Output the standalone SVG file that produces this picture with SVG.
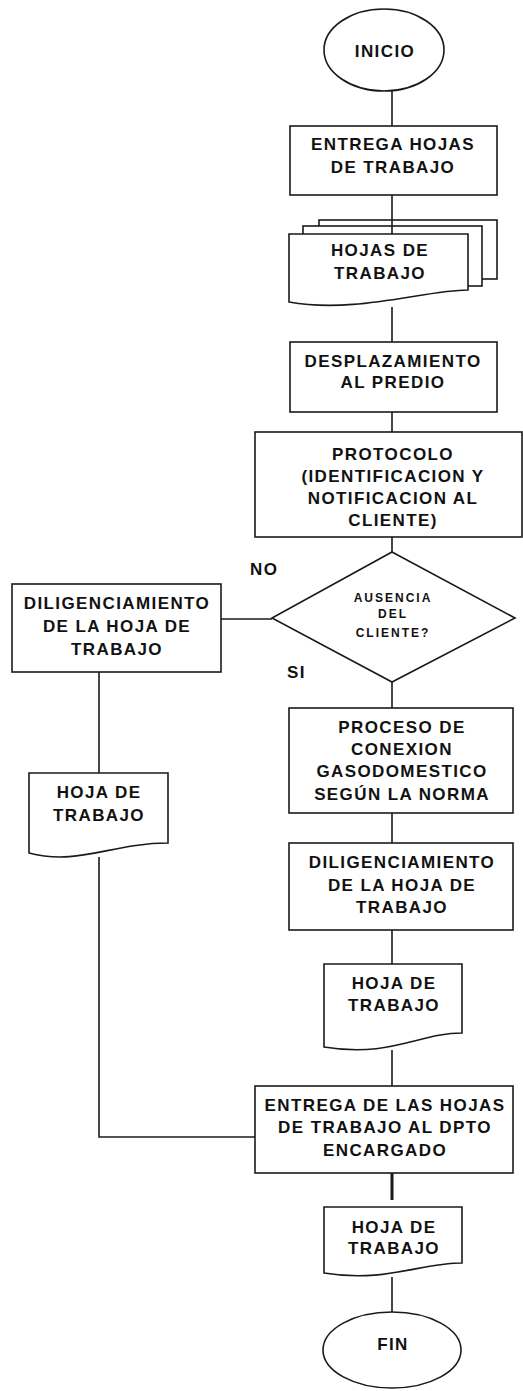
<svg xmlns="http://www.w3.org/2000/svg" width="523" height="1391" viewBox="0 0 523 1391">
<style>
.s{fill:#fff;stroke:#1a1a1a;stroke-width:1.6}
.c{fill:none;stroke:#1a1a1a;stroke-width:1.6}
text{font-family:"Liberation Sans",Arial,sans-serif;font-weight:bold;font-size:17px;letter-spacing:1.4px;fill:#111;text-anchor:middle}
.sm{font-size:12px;letter-spacing:2px}
.lb{text-anchor:start}
</style>
<rect width="523" height="1391" fill="#fff"/>
<g id="inicio"><ellipse class="s" cx="384" cy="50" rx="60" ry="41"/><text x="385" y="57">INICIO</text></g>
<g id="entrega"><rect class="s" x="290" y="126" width="207" height="69"/><text x="393" y="150">ENTREGA HOJAS</text><text x="393" y="173">DE TRABAJO</text></g>
<g id="hojas"><rect class="s" x="319" y="220" width="178" height="59"/><rect class="s" x="303" y="226" width="179" height="60"/><path class="s" d="M289,234 H468 V290 C425,290 355,314 289,302 Z"/><text x="380" y="256">HOJAS DE</text><text x="380" y="279">TRABAJO</text></g>
<g id="desplazamiento"><rect class="s" x="290" y="342" width="207" height="70"/><text x="393" y="367">DESPLAZAMIENTO</text><text x="393" y="388">AL PREDIO</text></g>
<g id="protocolo"><rect class="s" x="255" y="432" width="267" height="105"/><text x="393" y="460">PROTOCOLO</text><text x="393" y="482">(IDENTIFICACION Y</text><text x="393" y="504">NOTIFICACION AL</text><text x="393" y="526">CLIENTE)</text></g>
<g id="decision"><polygon class="s" points="392,552 515,618 392,682 272,618"/><text class="sm" x="393" y="602">AUSENCIA</text><text class="sm" x="393" y="618">DEL</text><text class="sm" x="393" y="637">CLIENTE?</text></g>
<g id="dilig-izq"><rect class="s" x="12" y="584" width="209" height="88"/><text x="117" y="609">DILIGENCIAMIENTO</text><text x="117" y="632">DE LA HOJA DE</text><text x="117" y="655">TRABAJO</text></g>
<g id="hoja-izq"><path class="s" d="M29,773 H168 V843 C112,843 78,866 29,853 Z"/><text x="99" y="798">HOJA DE</text><text x="99" y="821">TRABAJO</text></g>
<g id="proceso"><rect class="s" x="289" y="708" width="224" height="105"/><text x="402" y="733">PROCESO DE</text><text x="402" y="755">CONEXION</text><text x="402" y="777">GASODOMESTICO</text><text x="402" y="800">SEGÚN LA NORMA</text></g>
<g id="dilig-der"><rect class="s" x="289" y="843" width="224" height="87"/><text x="402" y="868">DILIGENCIAMIENTO</text><text x="402" y="891">DE LA HOJA DE</text><text x="402" y="913">TRABAJO</text></g>
<g id="hoja-der"><path class="s" d="M324,964 H462 V1033 C420,1033 390,1058 324,1047 Z"/><text x="394" y="989">HOJA DE</text><text x="394" y="1011">TRABAJO</text></g>
<g id="entrega-dpto"><rect class="s" x="255" y="1086" width="258" height="87"/><text x="385" y="1111">ENTREGA DE LAS HOJAS</text><text x="385" y="1133">DE TRABAJO AL DPTO</text><text x="385" y="1156">ENCARGADO</text></g>
<g id="hoja-fin"><path class="s" d="M324,1207 H462 V1263 C420,1263 385,1283 324,1273 Z"/><text x="394" y="1233">HOJA DE</text><text x="394" y="1254">TRABAJO</text></g>
<g id="fin"><ellipse class="s" cx="392" cy="1350" rx="69" ry="38"/><text x="393" y="1350">FIN</text></g>
<g id="labels"><text class="lb" x="250" y="575">NO</text><text class="lb" x="287" y="678">SI</text></g>
<g id="connectors">
<path class="c" d="M392,91 V126"/>
<path class="c" d="M392,195 V234"/>
<path class="c" d="M392,307 V342"/>
<path class="c" d="M392,412 V432"/>
<path class="c" d="M392,537 V552"/>
<path class="c" d="M221,619 H272"/>
<path class="c" d="M392,682 V708"/>
<path class="c" d="M392,813 V843"/>
<path class="c" d="M392,930 V964"/>
<path class="c" d="M392,1050 V1086"/>
<path class="c" d="M99,672 V773"/>
<path class="c" d="M99,857 V1137 H255"/>
<path class="c" d="M392,1173 V1200" style="stroke-width:3"/>
<path class="c" d="M392,1277 V1312"/>
</g>
</svg>
